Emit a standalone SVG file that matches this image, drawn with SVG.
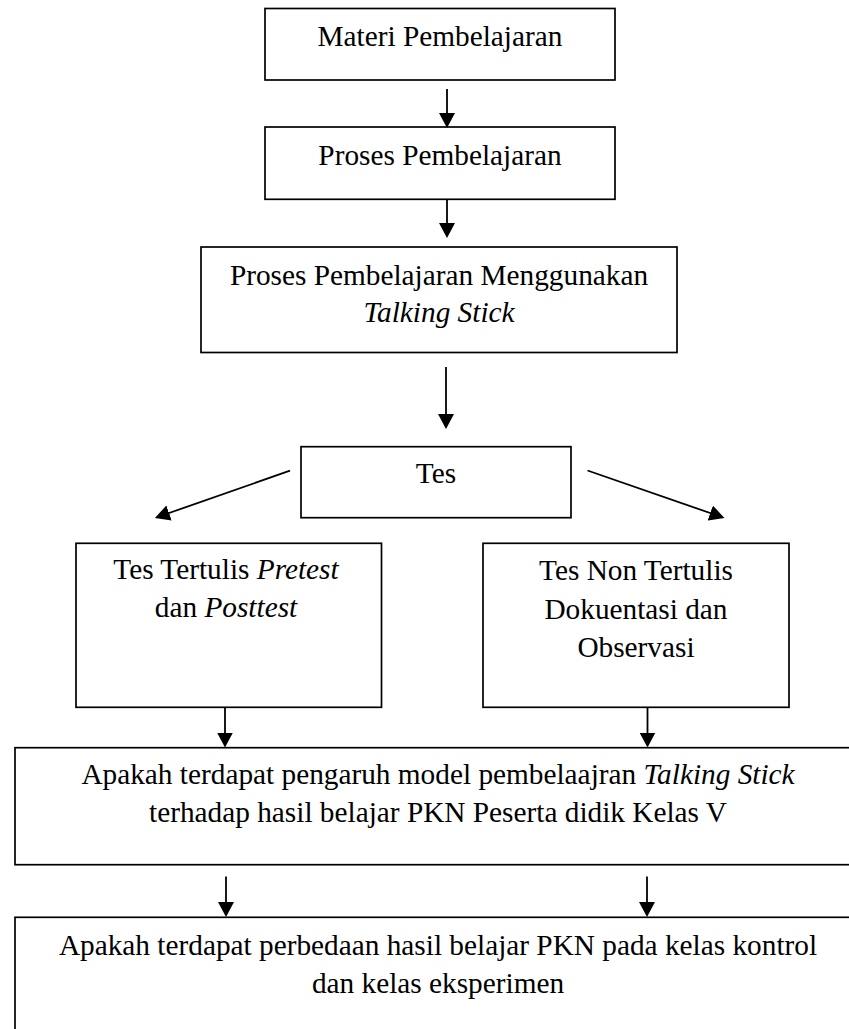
<svg xmlns="http://www.w3.org/2000/svg" width="849" height="1029" viewBox="0 0 849 1029">
<style>
.box{fill:#fff;stroke:#000;stroke-width:1.7}
.t{font-family:"Liberation Serif","Times New Roman",serif;font-size:29.3px;fill:#000;text-anchor:middle}
.i{font-style:italic}
.c{stroke:#000;stroke-width:1.8;fill:none;marker-end:url(#ah)}
</style>
<defs>
<marker id="ah" markerUnits="userSpaceOnUse" viewBox="0 0 15 16" refX="12" refY="8" markerWidth="15" markerHeight="16" orient="auto">
<path d="M0,0 L15,8 L0,16 z" fill="#000"/>
</marker>
</defs>
<rect width="849" height="1029" fill="#fff"/>
<g id="n1"><rect class="box" x="265" y="8.5" width="350" height="71.5"/><text class="t" x="440" y="45.5">Materi Pembelajaran</text></g>
<g id="n2"><rect class="box" x="265" y="127" width="350" height="72.3"/><text class="t" x="440" y="165">Proses Pembelajaran</text></g>
<g id="n3"><rect class="box" x="201" y="247" width="476" height="105.5"/><text class="t" x="439" y="285">Proses Pembelajaran Menggunakan</text><text class="t i" x="439" y="322">Talking Stick</text></g>
<g id="n4"><rect class="box" x="301" y="446.7" width="270" height="71"/><text class="t" x="436" y="483">Tes</text></g>
<g id="n5"><rect class="box" x="76" y="543.3" width="305.5" height="164"/><text class="t" x="226" y="579">Tes Tertulis <tspan class="i">Pretest</tspan></text><text class="t" x="226" y="617">dan <tspan class="i">Posttest</tspan></text></g>
<g id="n6"><rect class="box" x="483" y="543.3" width="306" height="164"/><text class="t" x="636" y="580">Tes Non Tertulis</text><text class="t" x="636" y="618.5">Dokuentasi dan</text><text class="t" x="636" y="657">Observasi</text></g>
<g id="n7"><rect class="box" x="15" y="747.7" width="850" height="117"/><text class="t" x="438" y="784">Apakah terdapat pengaruh model pembelaajran <tspan class="i">Talking Stick</tspan></text><text class="t" x="438" y="822">terhadap hasil belajar PKN Peserta didik Kelas V</text></g>
<g id="n8"><rect class="box" x="15" y="917.3" width="850" height="130"/><text class="t" x="438" y="954.5">Apakah terdapat perbedaan hasil belajar PKN pada kelas kontrol</text><text class="t" x="438" y="993">dan kelas eksperimen</text></g>
<g id="connectors">
<line class="c" x1="447" y1="89" x2="447" y2="125"/>
<line class="c" x1="447" y1="199.3" x2="447" y2="235"/>
<line class="c" x1="446" y1="367" x2="446" y2="426"/>
<line class="c" x1="290" y1="470.7" x2="157.7" y2="517"/>
<line class="c" x1="587.5" y1="470.5" x2="721.6" y2="517"/>
<line class="c" x1="225" y1="707.3" x2="225" y2="744.5"/>
<line class="c" x1="647.5" y1="707.3" x2="647.5" y2="744.5"/>
<line class="c" x1="226" y1="876.5" x2="226" y2="914"/>
<line class="c" x1="647" y1="876.5" x2="647" y2="914"/>
</g>
</svg>
